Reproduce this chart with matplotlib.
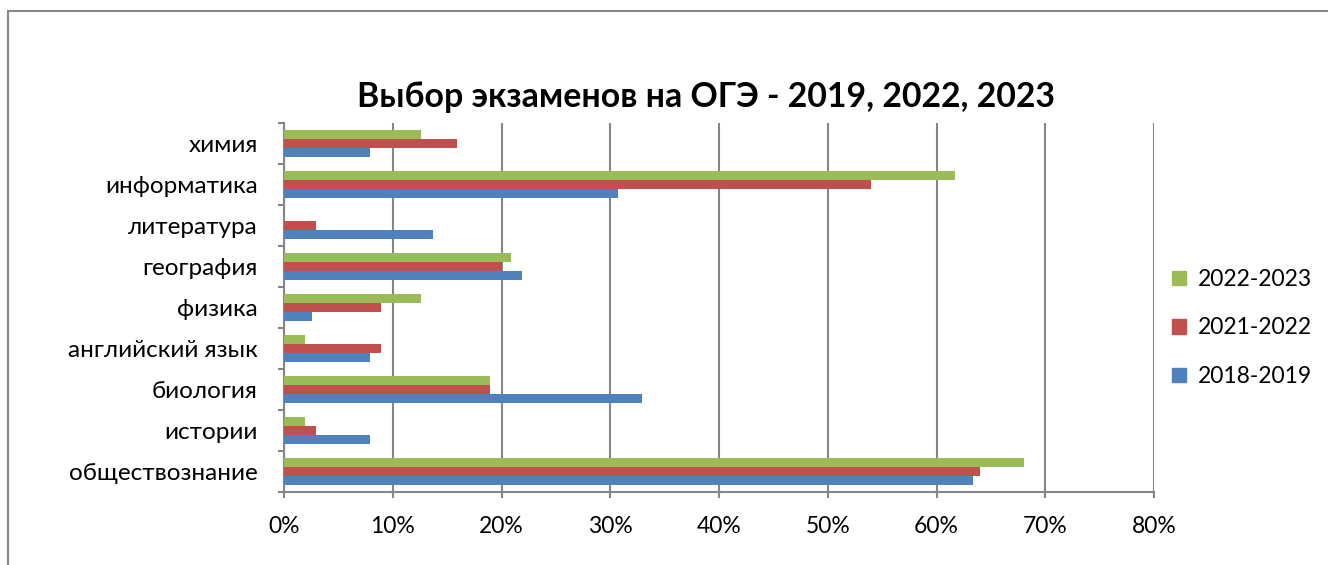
import matplotlib
matplotlib.use("Agg")
import matplotlib.pyplot as plt
from matplotlib.lines import Line2D
from matplotlib.patches import Patch
import numpy as np

categories = ["обществознание", "истории", "биология", "английский язык", "физика",
              "география", "литература", "информатика", "химия"]
s2019 = [63.4, 7.9, 32.9, 7.9, 2.6, 21.9, 13.7, 30.7, 7.9]
s2022 = [64.0, 2.9, 18.9, 8.9, 8.9, 20.0, 2.9, 54.0, 15.9]
s2023 = [68.0, 1.9, 18.9, 1.9, 12.6, 20.9, 0.0, 61.7, 12.6]
series_names = ["2018-2019", "2021-2022", "2022-2023"]
colors = ["#4F81BD", "#C0504D", "#9BBB59"]
xticks = [0, 10, 20, 30, 40, 50, 60, 70, 80]
title = "Выбор экзаменов на ОГЭ - 2019, 2022, 2023"

plt.rcParams['font.family'] = ['Lato', 'DejaVu Sans']
W, H = 1328, 565
fig = plt.figure(figsize=(W / 100, H / 100), dpi=100)
ax = fig.add_axes([284 / W, 1 - 492 / H, (1154 - 284) / W, (492 - 123) / H])

grid_c = "#868686"
y = np.arange(len(categories))
h = 0.22
offs = [-h, 0, h]
for vals, off, c, name in zip([s2019, s2022, s2023], offs, colors, series_names):
    ax.barh(y + off, vals, height=h, color=c, label=name, zorder=3)

ax.set_xlim(0, 80)
ax.set_ylim(-0.5, len(categories) - 0.5)
ax.set_xticks(xticks)
ax.set_xticklabels([f"{v}%" for v in xticks], fontsize=16.5)
ax.set_yticks(y)
ax.set_yticklabels(categories, fontsize=17.5)
ax.set_yticks(np.arange(-0.5, len(categories), 1.0), minor=True)
ax.tick_params(axis='y', which='major', length=0, pad=19)
ax.tick_params(axis='y', which='minor', length=4, width=1.5, color=grid_c, direction='out')
ax.tick_params(axis='x', which='major', length=4, width=1.5, color=grid_c, direction='out', pad=13)
ax.grid(axis='x', color=grid_c, linewidth=1.5, zorder=0)
ax.set_axisbelow(True)
for s in ['top', 'right']:
    ax.spines[s].set_visible(False)
for s in ['left', 'bottom']:
    ax.spines[s].set_color(grid_c)
    ax.spines[s].set_linewidth(1.5)

fig.text(706 / W, 1 - 97 / H, title, fontsize=24.4, fontweight='bold', ha='center', va='center')

handles = [Patch(color=colors[i]) for i in [2, 1, 0]]
labels = [series_names[i] for i in [2, 1, 0]]
fig.legend(handles, labels, loc='center left', bbox_to_anchor=(1165 / W, 1 - 328 / H),
           frameon=False, fontsize=16.5, handlelength=0.6, handleheight=0.6,
           labelspacing=1.2, handletextpad=0.55, borderaxespad=0, borderpad=0.3)

fig.add_artist(Line2D([8 / W, 8 / W], [0, 1 - 11 / H], transform=fig.transFigure,
                      color="#888888", linewidth=1.5))
fig.add_artist(Line2D([8 / W, 1], [1 - 11 / H, 1 - 11 / H], transform=fig.transFigure,
                      color="#888888", linewidth=1.5))

fig.savefig("out.png", dpi=100)
